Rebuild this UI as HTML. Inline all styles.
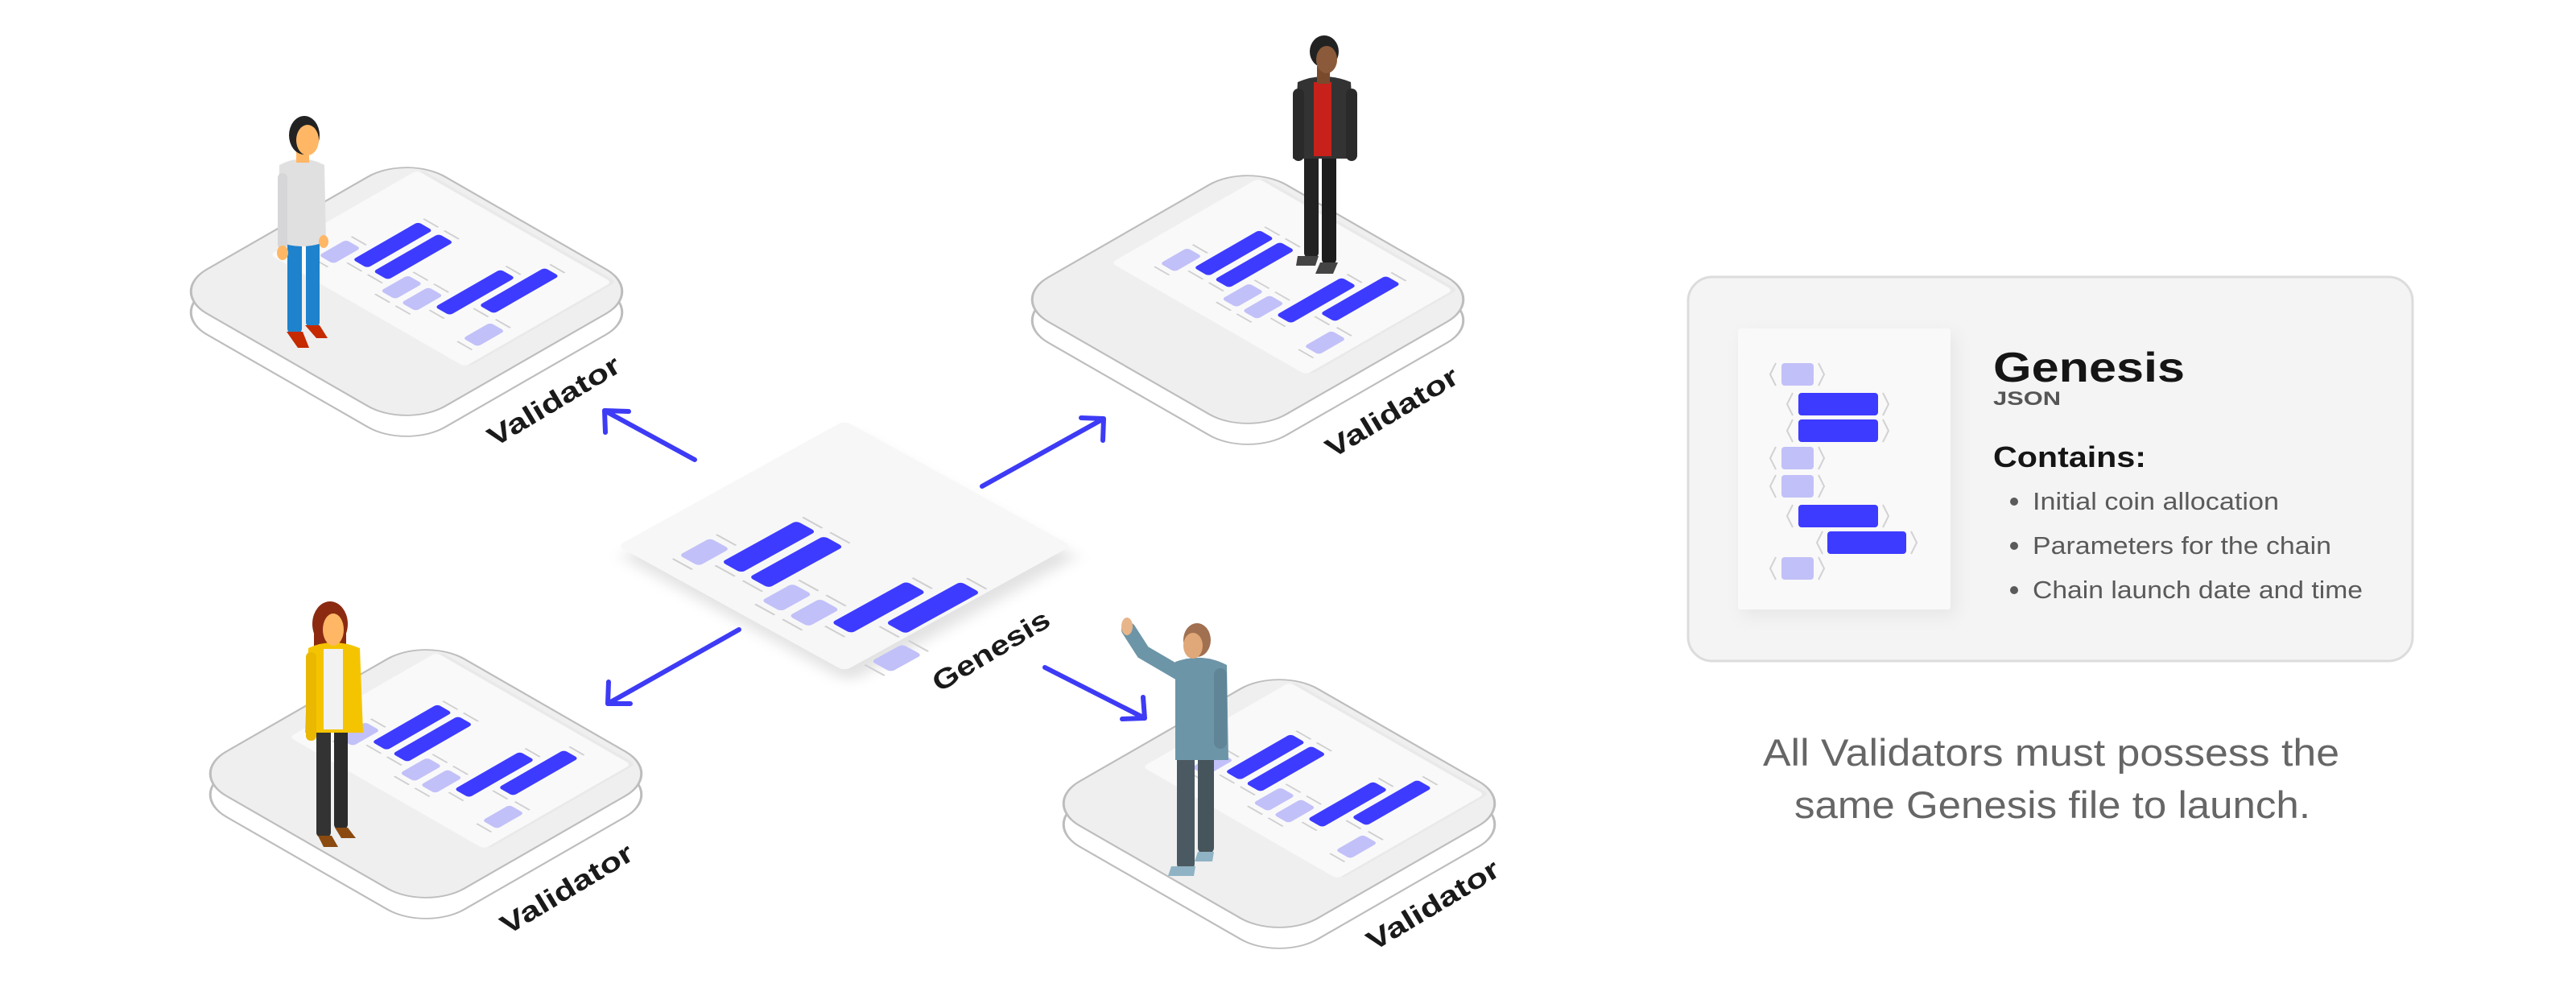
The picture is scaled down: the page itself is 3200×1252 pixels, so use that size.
<!DOCTYPE html>
<html><head><meta charset="utf-8"><style>
html,body{margin:0;padding:0;background:#fff;}
svg{display:block;font-family:"Liberation Sans",sans-serif;}
</style></head><body>
<svg width="3200" height="1252" viewBox="0 0 3200 1252" xmlns="http://www.w3.org/2000/svg">
<defs>
<g id="items">
  <g fill="none" stroke="#cfcfcf" stroke-width="2">
    <path d="M-26,-10V10M26,-10V10"/>
    <path d="M-8,18V38M96,18V38"/>
    <path d="M-8,46V66M96,46V66"/>
    <path d="M-26,74V94M26,74V94"/>
    <path d="M-26,102V122M26,102V122"/>
    <path d="M-8,130V150M96,130V150"/>
    <path d="M24,158V178M128,158V178"/>
    <path d="M-26,186V206M26,186V206"/>
  </g>
  <g fill="#c2c0f8">
    <rect x="-18.5" y="-10" width="37" height="20" rx="4"/>
    <rect x="-18.5" y="74" width="37" height="20" rx="4"/>
    <rect x="-18.5" y="102" width="37" height="20" rx="4"/>
    <rect x="-18.5" y="186" width="37" height="20" rx="4"/>
  </g>
  <g fill="#3d3bff">
    <rect x="-0.5" y="18" width="89" height="20" rx="4"/>
    <rect x="-0.5" y="46" width="89" height="20" rx="4"/>
    <rect x="-0.5" y="130" width="89" height="20" rx="4"/>
    <rect x="31.5" y="158" width="89" height="20" rx="4"/>
  </g>
</g>
<g id="plate">
  <g transform="translate(0,26) matrix(0.87,-0.5,0.87,0.5,0,0)">
    <rect x="-170" y="-170" width="340" height="340" rx="55" fill="#fff" stroke="#bdbdbd" stroke-width="2.5"/>
  </g>
  <g transform="matrix(0.87,-0.5,0.87,0.5,0,0)">
    <rect x="-170" y="-170" width="340" height="340" rx="55" fill="#efefef" stroke="#bdbdbd" stroke-width="2.5"/>
    <rect x="-48" y="-140" width="210" height="278" rx="6" fill="#e4e4e4" opacity="0.6"/>
    <rect x="-52" y="-143" width="210" height="278" rx="6" fill="#f9f9f9"/>
    <use href="#items" transform="translate(1.6,-97) scale(1.05)"/>
  </g>
</g>
<filter id="sh" x="-20%" y="-20%" width="140%" height="140%"><feGaussianBlur stdDeviation="10"/></filter>
</defs>

<use href="#plate" transform="translate(505,362)"/>
<use href="#plate" transform="translate(1550,372)"/>
<use href="#plate" transform="translate(529,961)"/>
<use href="#plate" transform="translate(1589,998)"/>

<g transform="translate(1049,678)">
  <g transform="translate(6,14) matrix(0.87,-0.48,0.87,0.48,0,0)" filter="url(#sh)">
    <rect x="-162" y="-162" width="324" height="324" rx="8" fill="#e2e2e2"/>
  </g>
  <g transform="matrix(0.87,-0.48,0.87,0.48,0,0)">
    <rect x="-162" y="-162" width="324" height="324" rx="8" fill="#f7f7f7"/>
    <use href="#items" transform="translate(-108,-92) scale(1.2,1.4)"/>
  </g>
</g>

<g stroke="#3d3bf5" stroke-width="6" stroke-linecap="round" stroke-linejoin="round" fill="none">
  <path d="M863,571 L751,510 M751,510 L781,511 M751,510 L752,537"/>
  <path d="M1220,604 L1371,520 M1371,520 L1343,519 M1371,520 L1370,547"/>
  <path d="M918,782 L755,874 M755,874 L783,874 M755,874 L756,847"/>
  <path d="M1298,829 L1422,892 M1422,892 L1394,893 M1422,892 L1420,866"/>
</g>

<g font-size="34" font-weight="bold" fill="#1a1a1a" text-anchor="middle">
  <text transform="translate(694,508) rotate(-31)" textLength="186" lengthAdjust="spacingAndGlyphs">Validator</text>
  <text transform="translate(1735,522) rotate(-31)" textLength="186" lengthAdjust="spacingAndGlyphs">Validator</text>
  <text transform="translate(710,1114) rotate(-31)" textLength="186" lengthAdjust="spacingAndGlyphs">Validator</text>
  <text transform="translate(1786,1134) rotate(-31)" textLength="186" lengthAdjust="spacingAndGlyphs">Validator</text>
  <text transform="translate(1237,818) rotate(-31)" textLength="164" lengthAdjust="spacingAndGlyphs">Genesis</text>
</g>

<g>
  <rect x="357" y="295" width="18" height="120" rx="7" fill="#1e82cc"/>
  <rect x="380" y="295" width="17" height="112" rx="7" fill="#1e82cc"/>
  <path d="M356,412 h20 l8,20 h-14z" fill="#c52a00"/>
  <path d="M379,404 h18 l10,16 h-14z" fill="#c52a00"/>
  <path d="M347,205 q28,-15 56,0 l2,95 q-30,12 -60,0z" fill="#e0e0e1"/>
  <rect x="345" y="215" width="12" height="95" rx="6" fill="#d6d6d8"/>
  <ellipse cx="351" cy="314" rx="7" ry="9" fill="#ffb766"/>
  <ellipse cx="402" cy="300" rx="6" ry="8" fill="#ffb766"/>
  <rect x="368" y="180" width="16" height="22" fill="#ffb766"/>
  <ellipse cx="378" cy="168" rx="19" ry="24" fill="#222"/>
  <ellipse cx="382" cy="174" rx="14" ry="19" fill="#ffb766"/>
</g>

<g>
  <rect x="1620" y="190" width="18" height="130" rx="6" fill="#222"/>
  <rect x="1642" y="190" width="18" height="138" rx="6" fill="#1c1c1c"/>
  <path d="M1612,318 h26 l-4,12 h-24z" fill="#444"/>
  <path d="M1640,326 h22 l-6,14 h-22z" fill="#444"/>
  <path d="M1612,102 q32,-14 66,0 l6,95 h-78z" fill="#333"/>
  <rect x="1632" y="102" width="22" height="92" fill="#c8201a"/>
  <rect x="1606" y="110" width="14" height="90" rx="7" fill="#2a2a2a"/>
  <rect x="1672" y="110" width="14" height="90" rx="7" fill="#2a2a2a"/>
  <rect x="1636" y="82" width="16" height="22" fill="#7a4a2c"/>
  <ellipse cx="1645" cy="64" rx="18" ry="20" fill="#222"/>
  <ellipse cx="1648" cy="74" rx="13" ry="17" fill="#8a5a3a"/>
</g>

<g>
  <rect x="393" y="900" width="18" height="140" rx="6" fill="#333"/>
  <rect x="415" y="900" width="17" height="130" rx="6" fill="#2b2b2b"/>
  <path d="M395,1038 h17 l8,14 h-18z" fill="#8a4a10"/>
  <path d="M416,1028 h16 l10,13 h-18z" fill="#8a4a10"/>
  <ellipse cx="410" cy="775" rx="22" ry="28" fill="#8b2a10"/>
  <rect x="390" y="775" width="40" height="45" fill="#8b2a10"/>
  <path d="M383,805 q30,-14 64,0 l4,105 h-72z" fill="#f5c400"/>
  <rect x="402" y="806" width="24" height="100" fill="#f2f2f2"/>
  <rect x="380" y="810" width="13" height="110" rx="6" fill="#eab800"/>
  <ellipse cx="414" cy="782" rx="13" ry="20" fill="#ffb766"/>
</g>

<g>
  <rect x="1462" y="930" width="22" height="150" rx="7" fill="#4b5a62"/>
  <rect x="1488" y="930" width="20" height="130" rx="7" fill="#46545b"/>
  <path d="M1455,1076 h30 l-2,12 h-32z" fill="#8fb3c4"/>
  <path d="M1488,1058 h20 l-2,12 h-22z" fill="#8fb3c4"/>
  <path d="M1460,822 q34,-12 64,4 l2,118 h-66z" fill="#6d95a8"/>
  <path d="M1468,838 L1420,810 L1402,782" stroke="#6d95a8" stroke-width="18" stroke-linecap="round" fill="none"/>
  <ellipse cx="1400" cy="778" rx="7" ry="11" fill="#e8b58a"/>
  <rect x="1508" y="830" width="16" height="100" rx="8" fill="#5f8597"/>
  <ellipse cx="1487" cy="795" rx="17" ry="21" fill="#a07050"/>
  <ellipse cx="1482" cy="802" rx="12" ry="16" fill="#e0a878"/>
</g>

<rect x="2097" y="344" width="900" height="477" rx="30" fill="#f4f4f4" stroke="#dcdcdc" stroke-width="3"/>
<rect x="2165" y="416" width="264" height="349" fill="#e6e6e6" filter="url(#sh)"/>
<rect x="2159" y="408" width="264" height="349" rx="3" fill="#f9f9f9"/>
<g fill="none" stroke="#d2d2d2" stroke-width="2">
  <path d="M2206,451 l-7,14 l7,14 M2259,451 l7,14 l-7,14"/>
  <path d="M2227,488 l-7,14 l7,14 M2339,488 l7,14 l-7,14"/>
  <path d="M2227,521 l-7,14 l7,14 M2339,521 l7,14 l-7,14"/>
  <path d="M2206,555 l-7,14 l7,14 M2259,555 l7,14 l-7,14"/>
  <path d="M2206,590 l-7,14 l7,14 M2259,590 l7,14 l-7,14"/>
  <path d="M2227,627 l-7,14 l7,14 M2339,627 l7,14 l-7,14"/>
  <path d="M2264,660 l-7,14 l7,14 M2374,660 l7,14 l-7,14"/>
  <path d="M2206,692 l-7,14 l7,14 M2259,692 l7,14 l-7,14"/>
</g>
<g fill="#c2c0f8">
  <rect x="2213" y="451" width="40" height="28" rx="4"/>
  <rect x="2213" y="555" width="40" height="28" rx="4"/>
  <rect x="2213" y="590" width="40" height="28" rx="4"/>
  <rect x="2213" y="692" width="40" height="28" rx="4"/>
</g>
<g fill="#3d3bff">
  <rect x="2234" y="488" width="99" height="28" rx="4"/>
  <rect x="2234" y="521" width="99" height="28" rx="4"/>
  <rect x="2234" y="627" width="99" height="28" rx="4"/>
  <rect x="2270" y="660" width="98" height="28" rx="4"/>
</g>
<text x="2476" y="474" font-size="52" font-weight="bold" fill="#151515" textLength="238" lengthAdjust="spacingAndGlyphs">Genesis</text>
<text x="2476" y="503" font-size="24" font-weight="bold" fill="#555" textLength="84" lengthAdjust="spacingAndGlyphs">JSON</text>
<text x="2476" y="580" font-size="36" font-weight="bold" fill="#151515" textLength="190" lengthAdjust="spacingAndGlyphs">Contains:</text>
<g font-size="31" fill="#5a5a5a">
  <circle cx="2502" cy="623" r="5"/><text x="2525" y="633" textLength="306" lengthAdjust="spacingAndGlyphs">Initial coin allocation</text>
  <circle cx="2502" cy="678" r="5"/><text x="2525" y="688" textLength="371" lengthAdjust="spacingAndGlyphs">Parameters for the chain</text>
  <circle cx="2502" cy="733" r="5"/><text x="2525" y="743" textLength="410" lengthAdjust="spacingAndGlyphs">Chain launch date and time</text>
</g>
<g font-size="47" fill="#666">
  <text x="2190" y="951" textLength="716" lengthAdjust="spacingAndGlyphs">All Validators must possess the</text>
  <text x="2229" y="1016" textLength="641" lengthAdjust="spacingAndGlyphs">same Genesis file to launch.</text>
</g>
</svg>
</body></html>
